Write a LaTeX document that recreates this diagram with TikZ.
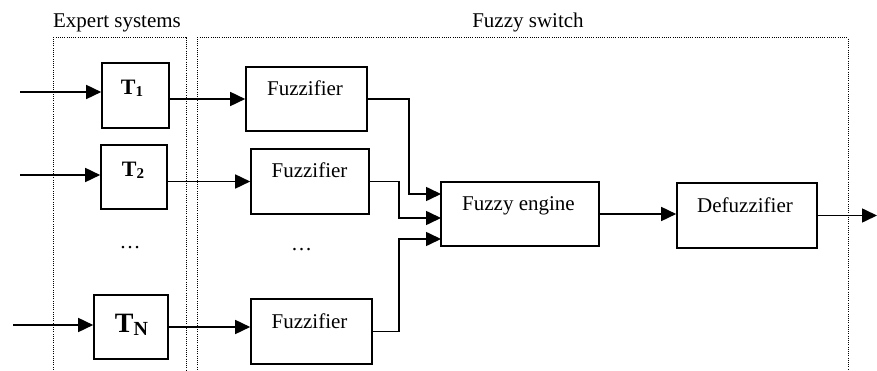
\documentclass[tikz,border=0pt]{standalone}
\usepackage{fontspec}
\setmainfont{Liberation Serif}
\usetikzlibrary{arrows.meta}
\begin{document}
\begin{tikzpicture}[x=1pt,y=-1pt,
  box/.style={draw,line width=1.6pt,inner sep=0pt},
  txt/.style={font=\fontsize{21}{25}\selectfont,inner sep=0pt,anchor=base},
  arr/.style={line width=1.6pt,-{Triangle[length=15pt,width=14pt]}},
  zone/.style={line width=1pt,dash pattern=on 1pt off 1.2pt}]
\useasboundingbox (0,0) rectangle (877,371);
% zones
\draw[zone] (53,372) -- (53,38) -- (186,38) -- (186,372);
\draw[zone] (197,372) -- (197,38) -- (848,38) -- (848,372);
\node[txt] (lexp) at (117,28) {Expert systems};
\node[txt] (lfs) at (528,28) {Fuzzy switch};
% expert boxes
\node[box,minimum width=67pt,minimum height=65pt] (T1) at (135.5,95.5) {};
\node[box,minimum width=66pt,minimum height=64pt] (T2) at (134,177) {};
\node[box,minimum width=74pt,minimum height=64pt] (TN) at (131,327) {};
\node[txt] (t1l) at (132,95) {\bfseries\fontsize{22}{26}\selectfont T\raisebox{-2pt}{\fontsize{15}{15}\selectfont 1}};
\node[txt] (t2l) at (133,177) {\bfseries\fontsize{22}{26}\selectfont T\raisebox{-2pt}{\fontsize{15}{15}\selectfont 2}};
\node[txt] (tnl) at (131.5,332) {\bfseries\fontsize{28}{32}\selectfont T\raisebox{-3pt}{\fontsize{20}{20}\selectfont N}};
\node[txt] (d1) at (130,248) {…};
% fuzzifiers
\node[box,minimum width=121pt,minimum height=64pt] (F1) at (306.5,99) {};
\node[box,minimum width=118pt,minimum height=65pt] (F2) at (310,181.5) {};
\node[box,minimum width=121pt,minimum height=65pt] (FN) at (311.5,331.5) {};
\node[txt] (f1l) at (305,96) {Fuzzifier};
\node[txt] (f2l) at (309.5,178) {Fuzzifier};
\node[txt] (fnl) at (309.5,328) {Fuzzifier};
\node[txt] (d2) at (301.5,250) {…};
% engine & defuzzifier
\node[box,minimum width=158pt,minimum height=64pt] (E) at (520,214) {};
\node[box,minimum width=140pt,minimum height=65pt] (D) at (747,215.5) {};
\node[txt] (el) at (518.5,211) {Fuzzy engine};
\node[txt] (dl) at (745,213) {Defuzzifier};
% inputs
\coordinate (i1) at (20,92);
\coordinate (i2) at (20,175);
\coordinate (iN) at (13,325);
\draw[arr] (i1) -- (i1 -| T1.west);
\draw[arr] (i2) -- (i2 -| T2.west);
\draw[arr] (iN) -- (iN -| TN.west);
% T -> F
\draw[arr] (T1.east |- F1.west) -- (F1.west);
\draw[arr] (T2.east |- F2.west) -- (F2.west);
\draw[arr] (TN.east) -- (TN.east -| FN.west);
% F -> E
\coordinate (e1) at (441,194);
\coordinate (e2) at (441,218);
\coordinate (e3) at (441,239);
\draw[arr] (F1.east) -- ++(41,0) |- (e1);
\draw[arr] (F2.east) -- ++(29,0) |- (e2);
\draw[arr] (FN.east) -- ++(26,0) |- (e3);
% E -> D -> out
\draw[arr] (E.east) -- (E.east -| D.west);
\coordinate (out) at (877,215.5);
\draw[arr] (D.east) -- (out);
\end{tikzpicture}
\end{document}
